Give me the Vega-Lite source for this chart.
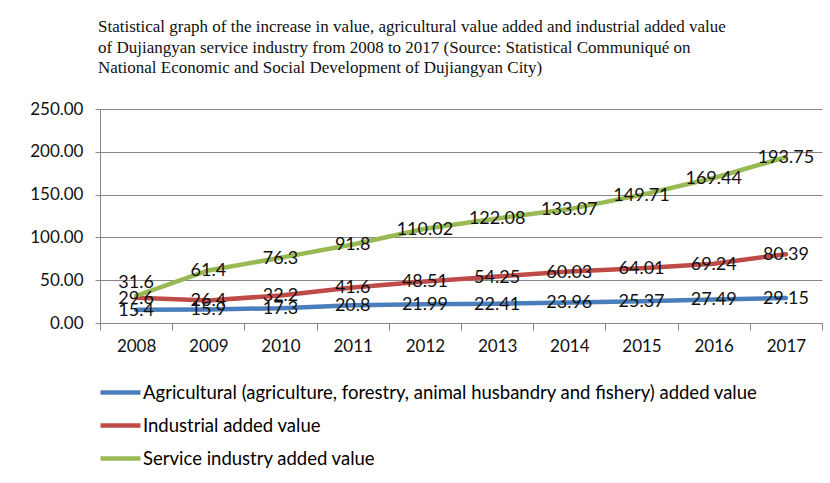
{
  "$schema": "https://vega.github.io/schema/vega-lite/v6.json",
  "autosize": {"type": "none"},
  "width": 722,
  "height": 214,
  "padding": {"left": 100, "top": 109, "right": 8, "bottom": 160},
  "background": "white",
  "title": {
    "text": [
      "Statistical graph of the increase in value, agricultural value added and industrial added value",
      "of Dujiangyan service industry from 2008 to 2017 (Source: Statistical Communiqué on",
      "National Economic and Social Development of Dujiangyan City)"
    ],
    "anchor": "start",
    "frame": "group",
    "font": "Liberation Serif",
    "fontSize": 17,
    "fontWeight": "normal",
    "lineHeight": 20.5,
    "color": "#111",
    "offset": 23,
    "dx": -2
  },
  "data": {
    "values": [
      {"year": "2008", "series": "Agricultural (agriculture, forestry, animal husbandry and fishery) added value", "value": 15.4},
      {"year": "2009", "series": "Agricultural (agriculture, forestry, animal husbandry and fishery) added value", "value": 15.9},
      {"year": "2010", "series": "Agricultural (agriculture, forestry, animal husbandry and fishery) added value", "value": 17.3},
      {"year": "2011", "series": "Agricultural (agriculture, forestry, animal husbandry and fishery) added value", "value": 20.8},
      {"year": "2012", "series": "Agricultural (agriculture, forestry, animal husbandry and fishery) added value", "value": 21.99},
      {"year": "2013", "series": "Agricultural (agriculture, forestry, animal husbandry and fishery) added value", "value": 22.41},
      {"year": "2014", "series": "Agricultural (agriculture, forestry, animal husbandry and fishery) added value", "value": 23.96},
      {"year": "2015", "series": "Agricultural (agriculture, forestry, animal husbandry and fishery) added value", "value": 25.37},
      {"year": "2016", "series": "Agricultural (agriculture, forestry, animal husbandry and fishery) added value", "value": 27.49},
      {"year": "2017", "series": "Agricultural (agriculture, forestry, animal husbandry and fishery) added value", "value": 29.15},
      {"year": "2008", "series": "Industrial added value", "value": 29.6},
      {"year": "2009", "series": "Industrial added value", "value": 26.4},
      {"year": "2010", "series": "Industrial added value", "value": 32.2},
      {"year": "2011", "series": "Industrial added value", "value": 41.6},
      {"year": "2012", "series": "Industrial added value", "value": 48.51},
      {"year": "2013", "series": "Industrial added value", "value": 54.25},
      {"year": "2014", "series": "Industrial added value", "value": 60.03},
      {"year": "2015", "series": "Industrial added value", "value": 64.01},
      {"year": "2016", "series": "Industrial added value", "value": 69.24},
      {"year": "2017", "series": "Industrial added value", "value": 80.39},
      {"year": "2008", "series": "Service industry added value", "value": 31.6},
      {"year": "2009", "series": "Service industry added value", "value": 61.4},
      {"year": "2010", "series": "Service industry added value", "value": 76.3},
      {"year": "2011", "series": "Service industry added value", "value": 91.8},
      {"year": "2012", "series": "Service industry added value", "value": 110.02},
      {"year": "2013", "series": "Service industry added value", "value": 122.08},
      {"year": "2014", "series": "Service industry added value", "value": 133.07},
      {"year": "2015", "series": "Service industry added value", "value": 149.71},
      {"year": "2016", "series": "Service industry added value", "value": 169.44},
      {"year": "2017", "series": "Service industry added value", "value": 193.75}
    ]
  },
  "encoding": {
    "x": {
      "field": "year",
      "type": "ordinal",
      "scale": {"type": "band", "paddingInner": 0, "paddingOuter": 0},
      "axis": {
        "title": null,
        "labelAngle": 0,
        "tickBand": "extent",
        "tickSize": 7,
        "labelPadding": 8,
        "domainColor": "#868686",
        "tickColor": "#868686",
        "grid": false
      }
    },
    "y": {
      "field": "value",
      "type": "quantitative",
      "scale": {"domain": [0, 250], "nice": false},
      "axis": {
        "title": null,
        "values": [0, 50, 100, 150, 200, 250],
        "format": ".2f",
        "tickSize": 5,
        "labelPadding": 12,
        "grid": true,
        "gridColor": "#868686",
        "domainColor": "#868686",
        "tickColor": "#868686"
      }
    }
  },
  "layer": [
    {
      "mark": {"type": "line", "strokeWidth": 4.5, "strokeCap": "round"},
      "encoding": {
        "color": {
          "field": "series",
          "type": "nominal",
          "scale": {
            "domain": [
              "Agricultural (agriculture, forestry, animal husbandry and fishery) added value",
              "Industrial added value",
              "Service industry added value"
            ],
            "range": ["#4A7EBB", "#BE4B48", "#98B954"]
          },
          "legend": {
            "title": null,
            "orient": "none",
            "legendX": -2,
            "legendY": 261,
            "direction": "vertical",
            "symbolType": "stroke",
            "symbolSize": 1600,
            "symbolStrokeWidth": 4.5,
            "labelFont": "Lato",
            "labelFontSize": 18.5,
            "labelColor": "#000",
            "labelOffset": 0,
            "labelLimit": 800,
            "rowPadding": 1
          }
        }
      }
    },
    {
      "transform": [{"filter": "!(datum.year == '2008' && datum.value == 31.6)"}],
      "mark": {"type": "text", "font": "Lato", "fontSize": 18, "color": "#111", "baseline": "middle", "dy": 1},
      "encoding": {"text": {"field": "value", "type": "nominal"}}
    },
    {
      "transform": [{"filter": "datum.year == '2008' && datum.value == 31.6"}],
      "mark": {"type": "text", "font": "Lato", "fontSize": 18, "color": "#111", "baseline": "middle", "dy": -13},
      "encoding": {"text": {"field": "value", "type": "nominal"}}
    }
  ],
  "config": {
    "view": {"stroke": null},
    "axis": {"labelFont": "Lato", "labelFontSize": 17, "labelColor": "#111"}
  }
}
